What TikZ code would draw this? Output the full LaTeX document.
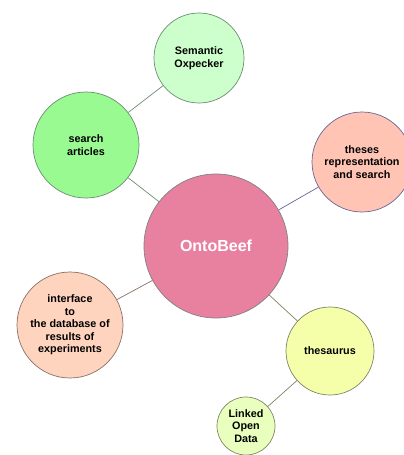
\documentclass[tikz,border=0pt]{standalone}
\usepackage{fontspec}
\setmainfont{Liberation Sans}
\usepackage{tikz}

\definecolor{beefpink}{RGB}{232,129,159}
\definecolor{mintgreen}{RGB}{204,255,204}
\definecolor{brightgreen}{RGB}{153,250,145}
\definecolor{salmon}{RGB}{255,196,180}
\definecolor{peach}{RGB}{255,212,190}
\definecolor{paleyellow}{RGB}{245,255,170}
\definecolor{palelime}{RGB}{232,255,190}
\definecolor{greenline}{RGB}{110,140,115}
\definecolor{blueline}{RGB}{105,100,150}
\definecolor{brownline}{RGB}{140,110,100}
\definecolor{oliveline}{RGB}{130,130,100}

\begin{document}
\begin{tikzpicture}[x=1pt, y=-1pt,
    topic/.style={draw=gray, line width=0.7pt, circle, inner sep=0pt, align=center,
      font=\fontsize{10.8}{12.6}\selectfont\bfseries},
    link/.style={line width=0.7pt}]
        \useasboundingbox (0,0) rectangle (404,455);
        \node[topic, fill=beefpink, minimum size=144pt, text=white,
          font=\fontsize{16}{18}\selectfont\bfseries] (Onto) at (216, 246) {OntoBeef};
        \node[topic, fill=mintgreen, draw=greenline, minimum size=90pt] (Oxp) at (199, 58) {Semantic\\Oxpecker};
        \node[topic, fill=brightgreen, draw=greenline, minimum size=106pt] (Search) at (86, 145) {search\\articles};
        \node[topic, fill=salmon, draw=blueline, minimum size=100pt] (Theses) at (362, 162) {theses\\representation\\and search};
        \node[topic, fill=peach, draw=brownline, minimum size=106pt] (Iface) at (70, 325) {interface\\to\\the database of\\results of\\experiments};
        \node[topic, fill=paleyellow, draw=oliveline, minimum size=88pt] (Thes) at (330, 351) {thesaurus};
        \node[topic, fill=palelime, draw=oliveline, minimum size=58pt] (LOD) at (246, 426) {Linked\\Open\\Data};
        \draw[link, greenline] (Oxp) -- (Search);
        \draw[link, greenline] (Search) -- (Onto);
        \draw[link, blueline] (Onto) -- (Theses);
        \draw[link, brownline] (Onto) -- (Iface);
        \draw[link, oliveline] (Onto) -- (Thes);
        \draw[link, oliveline] (Thes) -- (LOD);
      \end{tikzpicture}
\end{document}
